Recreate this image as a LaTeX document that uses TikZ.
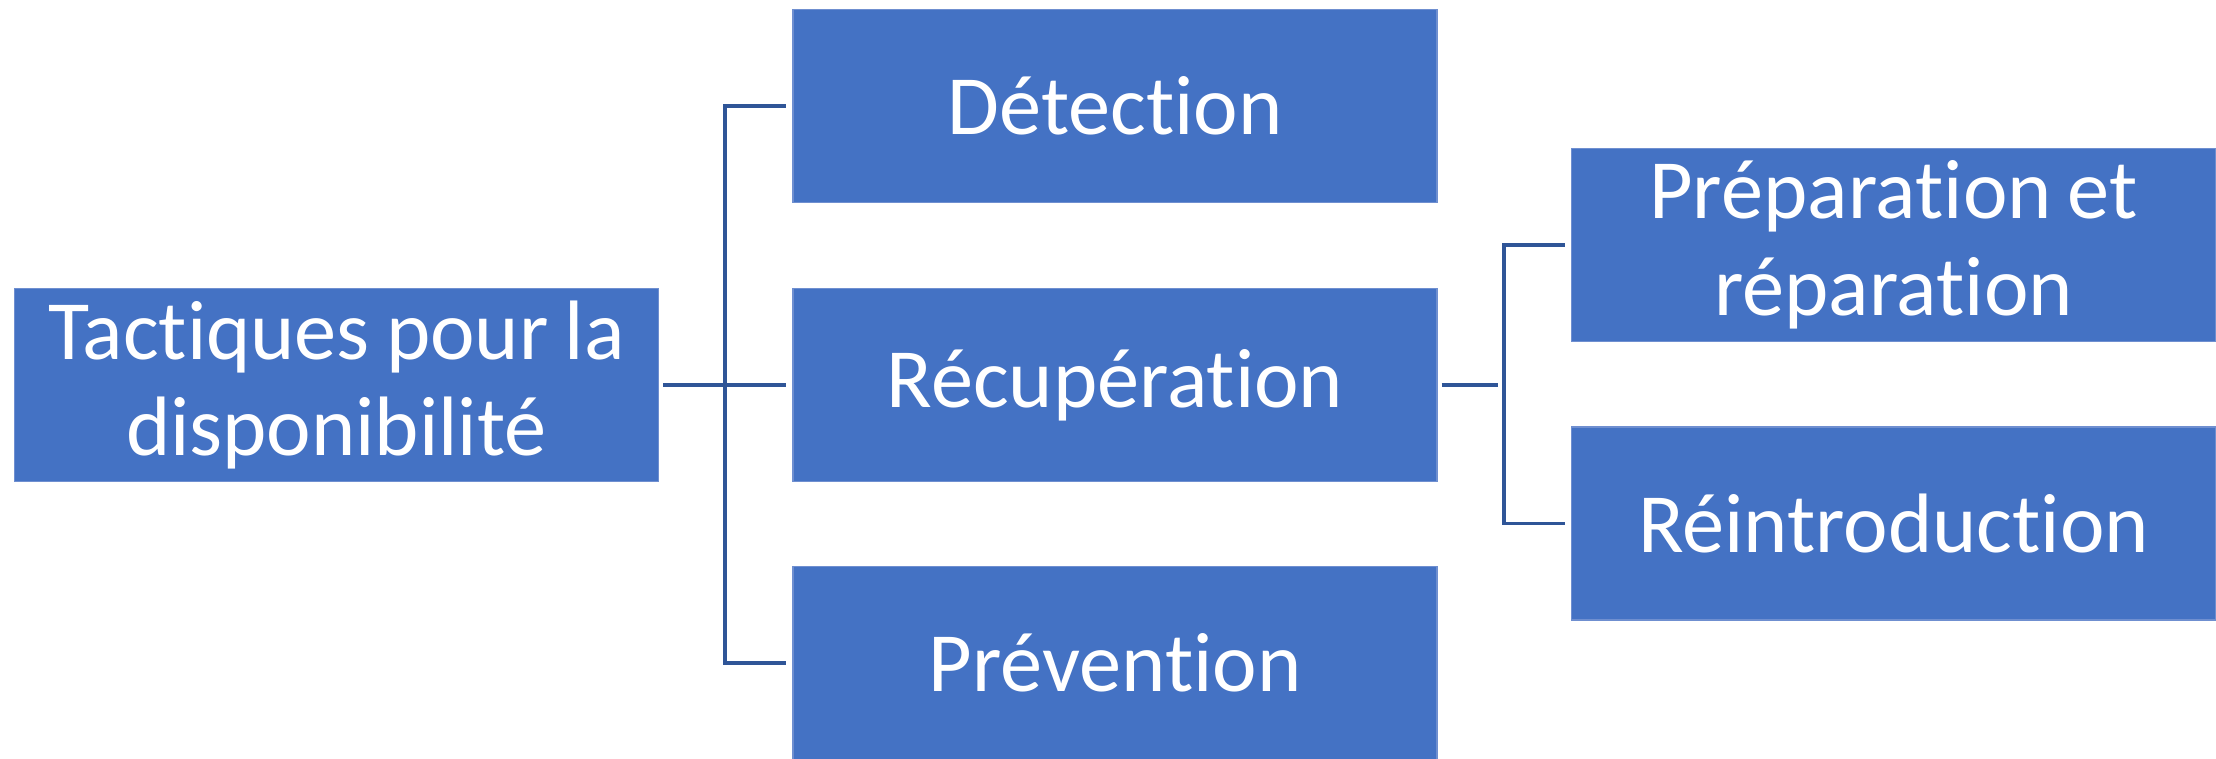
\documentclass[tikz,border=0pt]{standalone}
\usepackage{fontspec}
\setmainfont{Carlito}[RawFeature=-liga, WordSpace=0.85]
\usetikzlibrary{positioning}
\definecolor{boxblue}{HTML}{4472C4}
\definecolor{boxedge}{HTML}{6F8FD0}
\definecolor{linkblue}{HTML}{2F5597}

\begin{document}
\begin{tikzpicture}[ tactic/.style={ rectangle, fill=boxblue, draw=boxedge,
          line width=0.4pt, minimum width=6.44cm, minimum height=1.93cm,
          align=center, text=white, inner sep=0pt,
          font=\fontsize{24}{27.5}\selectfont },
        link/.style={ draw=linkblue, line width=1pt, shorten >=0.06cm } ]
        \useasboundingbox (0,0) rectangle (22.16,7.58);

        \node[tactic] (root) at (3.365,3.73) {Tactiques pour la\\disponibilité};

        \foreach \y/\n/\l in {6.52/det/Détection,3.73/rec/Récupération,0.95/prev/Prévention}
        \node[tactic] (\n) at (11.15,\y) {\l};

        \node[tactic] (prep) at (18.935,5.13) {Préparation et\\réparation};
        \node[tactic] (reint) at (18.935,2.345) {Réintroduction};

        \coordinate (hubA) at (7.25,3.73);
        \coordinate (hubB) at (15.04,3.73);

        \draw[link, shorten <=0.04cm] (root) -- (rec);
        \draw[link] (hubA) |- (det); \draw[link] (hubA) |- (prev);

        \draw[link, shorten <=0.04cm] (rec.east) -- (hubB);
        \draw[link] (hubB) |- (prep); \draw[link] (hubB) |- (reint);
      \end{tikzpicture}
\end{document}
